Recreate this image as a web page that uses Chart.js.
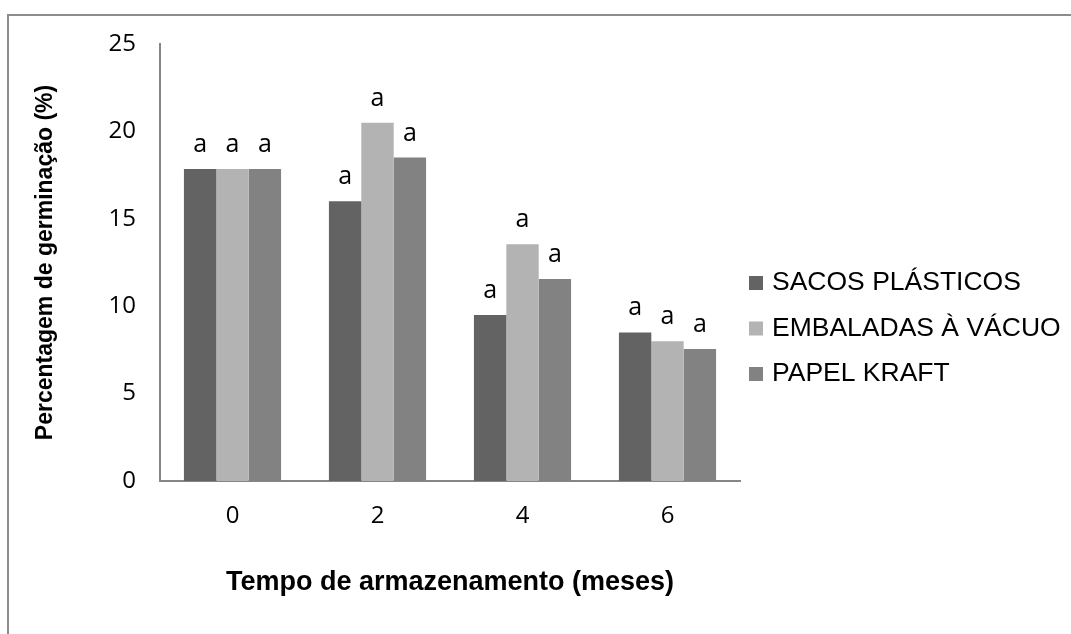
<!DOCTYPE html>
<html>
<head>
<meta charset="utf-8">
<script src="https://cdn.jsdelivr.net/npm/chart.js@4/dist/chart.umd.min.js"></script>
<style>
  html, body { margin: 0; padding: 0; background: #ffffff; }
  #wrap { width: 1071px; height: 634px; position: relative; }
</style>
</head>
<body>
<div id="wrap"><canvas id="chart" width="1071" height="634"></canvas></div>
<script>
// Storage time (months) on the x axis
const categories = ['0', '2', '4', '6'];

// Germination percentage per packaging type
const sacosPlasticos = [17.85, 16.0, 9.5, 8.5];
const embaladasVacuo = [17.85, 20.5, 13.55, 8.0];
const papelKraft     = [17.85, 18.5, 11.55, 7.55];

// Significance letters printed above each bar
const lettersSacos = ['a', 'a', 'a', 'a'];
const lettersVacuo = ['a', 'a', 'a', 'a'];
const lettersKraft = ['a', 'a', 'a', 'a'];

const seriesNames = ['SACOS PLÁSTICOS', 'EMBALADAS À VÁCUO', 'PAPEL KRAFT'];
const seriesColors = ['#636363', '#b3b3b3', '#828282'];

const AXIS_GRAY = '#868686';

// Outer frame (top and left edges)
const framePlugin = {
  id: 'frame',
  beforeDraw(chart) {
    const ctx = chart.ctx;
    ctx.save();
    ctx.fillStyle = '#ffffff';
    ctx.fillRect(0, 0, chart.width, chart.height);
    ctx.strokeStyle = '#8c8c8c';
    ctx.lineWidth = 2;
    ctx.beginPath();
    ctx.moveTo(8, chart.height);
    ctx.lineTo(8, 15);
    ctx.lineTo(chart.width, 15);
    ctx.stroke();
    ctx.restore();
  }
};

// Letters above the bars
const letterPlugin = {
  id: 'letters',
  afterDatasetsDraw(chart) {
    const ctx = chart.ctx;
    ctx.save();
    ctx.font = '25px "Open Sans", sans-serif';
    ctx.fillStyle = '#000000';
    ctx.textAlign = 'center';
    ctx.textBaseline = 'alphabetic';
    chart.data.datasets.forEach((ds, i) => {
      const meta = chart.getDatasetMeta(i);
      meta.data.forEach((bar, j) => {
        ctx.fillText(ds.letters[j], bar.x, bar.y - 17);
      });
    });
    ctx.restore();
  }
};

// Legend drawn to the right of the plot
const sideLegendPlugin = {
  id: 'sideLegend',
  afterDraw(chart) {
    const ctx = chart.ctx;
    ctx.save();
    ctx.font = '26.5px "Liberation Sans", Arial, sans-serif';
    ctx.textBaseline = 'middle';
    ctx.textAlign = 'left';
    const x0 = 749, y0 = 283, step = 45.5, box = 14;
    chart.data.datasets.forEach((ds, i) => {
      const y = y0 + i * step;
      ctx.fillStyle = ds.backgroundColor;
      ctx.fillRect(x0, y - box / 2, box, box);
      ctx.fillStyle = '#000000';
      ctx.fillText(ds.label, x0 + 23, y);
    });
    ctx.restore();
  }
};

new Chart(document.getElementById('chart'), {
  type: 'bar',
  data: {
    labels: categories,
    datasets: [
      { label: seriesNames[0], data: sacosPlasticos, backgroundColor: seriesColors[0], letters: lettersSacos },
      { label: seriesNames[1], data: embaladasVacuo, backgroundColor: seriesColors[1], letters: lettersVacuo },
      { label: seriesNames[2], data: papelKraft,     backgroundColor: seriesColors[2], letters: lettersKraft }
    ]
  },
  options: {
    responsive: false,
    animation: false,
    devicePixelRatio: 1,
    layout: { padding: { left: 32, right: 331, top: 44, bottom: 35 } },
    datasets: { bar: { categoryPercentage: 0.67, barPercentage: 1.0 } },
    plugins: {
      legend: { display: false },
      tooltip: { enabled: false }
    },
    scales: {
      x: {
        grid: { display: false, drawTicks: false, tickLength: 0 },
        border: { display: true, color: AXIS_GRAY, width: 2 },
        ticks: {
          padding: 21,
          color: '#000000',
          font: { family: '"Open Sans", sans-serif', size: 24 }
        },
        title: {
          display: true,
          text: 'Tempo de armazenamento (meses)',
          color: '#000000',
          padding: 0,
          font: { family: '"Liberation Sans", Arial, sans-serif', size: 27, weight: 'bold' }
        },
        afterFit(scale) { scale.height = 118; }
      },
      y: {
        min: 0,
        max: 25,
        grid: { display: false, drawTicks: false, tickLength: 0 },
        border: { display: true, color: AXIS_GRAY, width: 2 },
        ticks: {
          stepSize: 5,
          padding: 24,
          color: '#000000',
          font: { family: '"Open Sans", sans-serif', size: 24 }
        },
        title: {
          display: true,
          text: 'Percentagem de germinação (%)',
          color: '#000000',
          padding: 0,
          font: { family: '"Liberation Sans", Arial, sans-serif', size: 23, weight: 'bold' }
        },
        afterFit(scale) { scale.width = 128; }
      }
    }
  },
  plugins: [framePlugin, letterPlugin, sideLegendPlugin]
});
</script>
</body>
</html>
